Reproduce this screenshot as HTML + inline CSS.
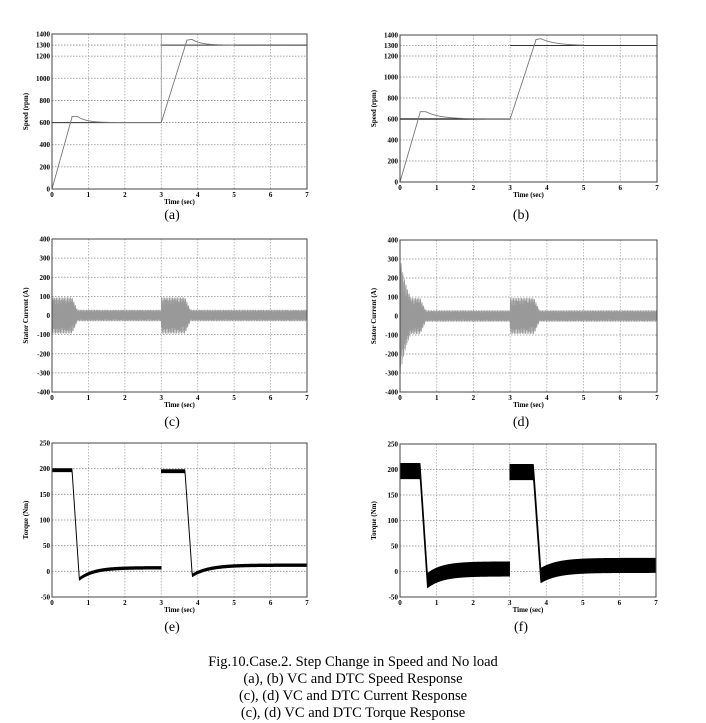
<!DOCTYPE html>
<html><head><meta charset="utf-8"><style>
html,body{margin:0;padding:0;background:#fff;width:706px;height:723px;overflow:hidden}
svg{display:block}
</style></head><body>
<svg id="s" width="706" height="723" xmlns="http://www.w3.org/2000/svg" font-family="Liberation Serif, serif">
<text x="353" y="666" font-size="14.5" text-anchor="middle">Fig.10.Case.2. Step Change in Speed and No load</text>
<text x="353" y="683" font-size="14.5" text-anchor="middle">(a), (b) VC and DTC Speed Response</text>
<text x="353" y="700" font-size="14.5" text-anchor="middle">(c), (d) VC and DTC Current Response</text>
<text x="353" y="717" font-size="14.5" text-anchor="middle">(c), (d) VC and DTC Torque Response</text>
<text x="172" y="219" font-size="14" text-anchor="middle">(a)</text>
<text x="521" y="219" font-size="14" text-anchor="middle">(b)</text>
<text x="172" y="426" font-size="14" text-anchor="middle">(c)</text>
<text x="521" y="426" font-size="14" text-anchor="middle">(d)</text>
<text x="172" y="631" font-size="14" text-anchor="middle">(e)</text>
<text x="521" y="631" font-size="14" text-anchor="middle">(f)</text>
</svg>
<script>
var S=document.getElementById('s'),NS='http://www.w3.org/2000/svg';
function el(t,a,txt){var e=document.createElementNS(NS,t);for(var k in a)e.setAttribute(k,a[k]);if(txt!=null)e.textContent=txt;S.appendChild(e);return e;}
function panel(L,R,T,B,ymin,ymax,yt,ylab){
 var X=function(t){return L+(R-L)*t/7},Y=function(v){return B-(B-T)*(v-ymin)/(ymax-ymin)};
 for(var i=1;i<7;i++)el('line',{x1:X(i),x2:X(i),y1:T,y2:B,stroke:'#aaa','stroke-width':0.8,'stroke-dasharray':'1.5,1.5'});
 yt.forEach(function(v){if(v>ymin&&v<ymax)el('line',{x1:L,x2:R,y1:Y(v),y2:Y(v),stroke:'#888','stroke-width':0.8,'stroke-dasharray':'1.5,1.5'});
  el('text',{x:L-2,y:Y(v)+2.5,'font-size':7,'text-anchor':'end','font-weight':'bold'},String(v));});
 for(var i=0;i<=7;i++)el('text',{x:X(i),y:B+8,'font-size':7,'text-anchor':'middle','font-weight':'bold'},String(i));
 el('text',{x:(L+R)/2,y:B+15,'font-size':7,'text-anchor':'middle','font-weight':'bold'},'Time (sec)');
 var cy=(T+B)/2;el('text',{x:L-24,y:cy,'font-size':7,'text-anchor':'middle','font-weight':'bold',transform:'rotate(-90 '+(L-24)+' '+cy+')'},ylab);
 return {X:X,Y:Y,box:function(){el('rect',{x:L,y:T,width:R-L,height:B-T,fill:'none',stroke:'#444','stroke-width':1});}};
}
function line(p,f,col,w,n,t0,t1){var d='';n=n||700;t0=t0||0;t1=t1==null?7:t1;for(var i=0;i<=n;i++){var t=t0+(t1-t0)*i/n;d+=(i?'L':'M')+p.X(t).toFixed(2)+' '+p.Y(f(t)).toFixed(2);}el('path',{d:d,fill:'none',stroke:col,'stroke-width':w});}
function speed(t,ov,ds){
 if(t<3){if(t<0.55)return 0+t/0.55*(600+ov*0.9);if(t<0.7)return 600+ov;return 600+ov*Math.exp(-(t-0.7)*ds);}
 var u=t-3;if(u<0.7)return 600+u/0.7*(700+ov*0.7);if(u<0.85)return 1300+ov*0.8+(u-0.7)*ov;return 1300+ov*0.9*Math.exp(-(u-0.85)*ds);}
var a=panel(52,307,34,189,0,1400,[0,200,400,600,800,1000,1200,1300,1400],'Speed (rpm)');
el('line',{x1:a.X(0),x2:a.X(3),y1:a.Y(600),y2:a.Y(600),stroke:'#333','stroke-width':1});
el('line',{x1:a.X(3),x2:a.X(7),y1:a.Y(1300),y2:a.Y(1300),stroke:'#333','stroke-width':1});
el('line',{x1:a.X(3),x2:a.X(3),y1:a.Y(600),y2:a.Y(1400),stroke:'#999','stroke-width':0.8});
line(a,function(t){return speed(t,55,4)},'#777',0.9,700,0,5);a.box();
var b=panel(400,657,35,182,0,1400,[0,200,400,600,800,1000,1200,1300,1400],'Speed (rpm)');
el('line',{x1:b.X(0),x2:b.X(3),y1:b.Y(600),y2:b.Y(600),stroke:'#111','stroke-width':1.2});
el('line',{x1:b.X(3),x2:b.X(7),y1:b.Y(1300),y2:b.Y(1300),stroke:'#333','stroke-width':1});
line(b,function(t){return speed(t,70,2.5)},'#777',0.9,700,0,5);b.box();
function cur(p,start){
 var d='',n=3200;for(var i=0;i<=n;i++){var t=7*i/n,A;
  if(t<0.55)A=95;else if(t<0.7)A=95-(t-0.55)/0.15*65;else if(t<3)A=30;else if(t<3.65)A=95;else if(t<3.8)A=95-(t-3.65)/0.15*65;else A=30;
  if(start&&t<0.6)A=Math.max(A,220*Math.exp(-t*5)+95*(1-t/0.6));
  var v=A*Math.sin(i*1.9+(i%7)*0.3);d+=(i?'L':'M')+p.X(t).toFixed(2)+' '+p.Y(v).toFixed(2);}
 el('path',{d:d,fill:'none',stroke:'#999','stroke-width':0.5});}
var c=panel(52,307,239,392,-400,400,[-400,-300,-200,-100,0,100,200,300,400],'Stator Current (A)');cur(c,false);c.box();
var dd=panel(400,657,240,392,-400,400,[-400,-300,-200,-100,0,100,200,300,400],'Stator Current (A)');cur(dd,true);dd.box();
function seg(p,t0,t1,fn){
 var n=400,pts=[];
 for(var i=0;i<=n;i++){var t=t0+(t1-t0)*i/n,r=fn(t);pts.push([p.X(t),p.Y(r[0]+r[1]),p.Y(r[0]-r[1])]);}
 var d='M'+pts.map(function(q){return q[0].toFixed(2)+' '+q[1].toFixed(2)}).join('L');
 for(var i=pts.length-1;i>=0;i--)d+='L'+pts[i][0].toFixed(2)+' '+pts[i][2].toFixed(2);
 el('path',{d:d+'Z',fill:'#000',stroke:'#000','stroke-width':0.8});
}
function torque(p,band,m1,s1,m2,s2){
 seg(p,0,2.995,function(t){if(t<0.55)return[197,band[0]];if(t<0.75)return[197-(t-0.55)/0.2*(197-m1),band[1]];return[s1+(m1-s1)*Math.exp(-(t-0.75)*2.5),band[1]];});
 seg(p,3.005,7,function(t){if(t<3.65)return[195,band[0]];if(t<3.85)return[195-(t-3.65)/0.2*(195-m2),band[1]];return[s2+(m2-s2)*Math.exp(-(t-3.85)*2.2),band[1]];});
}
var e=panel(52,307,443,597,-50,250,[-50,0,50,100,150,200,250],'Torque (Nm)');torque(e,[3,2.5],-15,7,-8,12);e.box();
var f=panel(400,656,444,597,-50,250,[-50,0,50,100,150,200,250],'Torque (Nm)');torque(f,[15,14],-18,5,-8,12);f.box();
</script>
</body></html>
